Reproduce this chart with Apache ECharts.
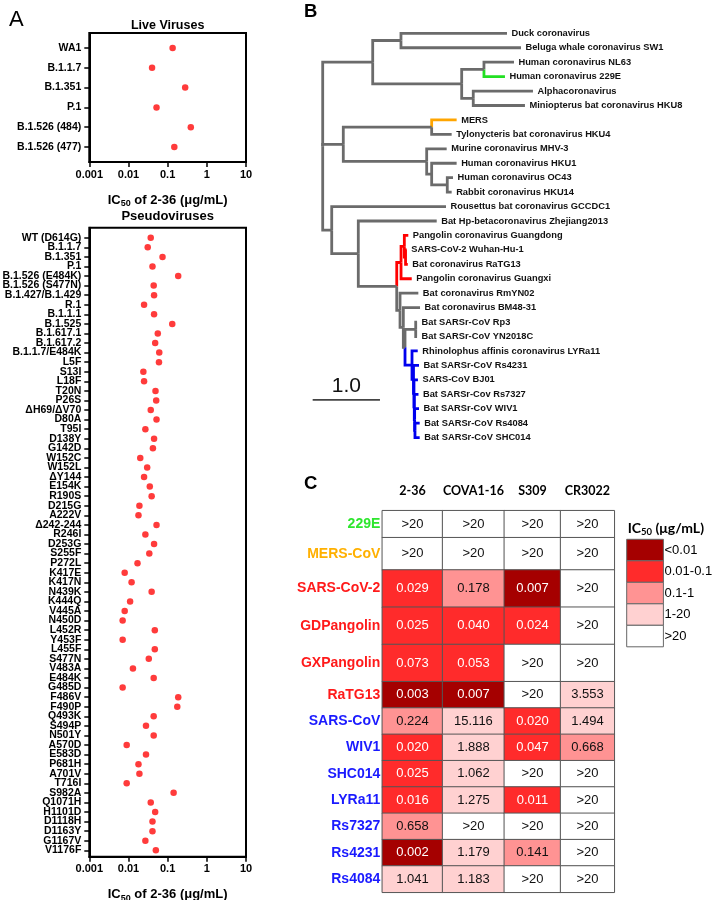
<!DOCTYPE html>
<html><head><meta charset="utf-8">
<script src="https://cdn.jsdelivr.net/npm/echarts@6/dist/echarts.min.js"></script>
<style>html,body{margin:0;padding:0;background:#fff}#c{width:715px;height:900px}</style>
</head><body><div id="c"></div>
<script>
// ================= DATA =================
// Panel A – live viruses
const liveNames = ['WA1','B.1.1.7','B.1.351','P.1','B.1.526 (484)','B.1.526 (477)'];
const liveIC50  = [0.134,0.040,0.28,0.052,0.39,0.148];
// Panel A – pseudoviruses
const pseudoNames = ['WT (D614G)','B.1.1.7','B.1.351','P.1','B.1.526 (E484K)','B.1.526 (S477N)','B.1.427/B.1.429','R.1','B.1.1.1','B.1.525',
  'B.1.617.1','B.1.617.2','B.1.1.7/E484K','L5F','S13I','L18F','T20N','P26S','ΔH69/ΔV70','D80A',
  'T95I','D138Y','G142D','W152C','W152L','ΔY144','E154K','R190S','D215G','A222V',
  'Δ242-244','R246I','D253G','S255F','P272L','K417E','K417N','N439K','K444Q','V445A',
  'N450D','L452R','Y453F','L455F','S477N','V483A','E484K','G485D','F486V','F490P',
  'Q493K','S494P','N501Y','A570D','E583D','P681H','A701V','T716I','S982A','Q1071H',
  'H1101D','D1118H','D1163Y','G1167V','V1176F'];
const pseudoIC50 = [0.037,0.031,0.074,0.041,0.186,0.044,0.045,0.025,0.045,0.131,
  0.056,0.048,0.061,0.060,0.024,0.025,0.049,0.051,0.037,0.052,
  0.027,0.045,0.042,0.020,0.030,0.025,0.035,0.039,0.019,0.018,
  0.052,0.027,0.045,0.034,0.017,0.008,0.012,0.039,0.011,0.008,
  0.0071,0.047,0.0071,0.047,0.033,0.013,0.044,0.0071,0.186,0.176,
  0.044,0.028,0.044,0.009,0.028,0.018,0.019,0.009,0.142,0.037,
  0.048,0.041,0.041,0.027,0.050];
const xTickLabels = ['0.001','0.01','0.1','1','10'];

// Panel B – phylogeny (leaf ids index treeLeaves; branch lengths, scale bar = 1.0)
const treeLeaves = ['Duck coronavirus','Beluga whale coronavirus SW1','Human coronavirus NL63','Human coronavirus 229E',
  'Alphacoronavirus','Miniopterus bat coronavirus HKU8','MERS','Tylonycteris bat coronavirus HKU4',
  'Murine coronavirus MHV-3','Human coronavirus HKU1','Human coronavirus OC43','Rabbit coronavirus HKU14',
  'Rousettus bat coronavirus GCCDC1','Bat Hp-betacoronavirus Zhejiang2013','Pangolin coronavirus Guangdong',
  'SARS-CoV-2 Wuhan-Hu-1','Bat coronavirus RaTG13','Pangolin coronavirus Guangxi','Bat coronavirus RmYN02',
  'Bat coronavirus BM48-31','Bat SARSr-CoV Rp3','Bat SARSr-CoV YN2018C','Rhinolophus affinis coronavirus LYRa11',
  'Bat SARSr-CoV Rs4231','SARS-CoV BJ01','Bat SARSr-Cov Rs7327','Bat SARSr-CoV WIV1','Bat SARSr-CoV Rs4084',
  'Bat SARSr-CoV SHC014'];
const treeNewick =
  '(((0:1.575,1:1.783):0.42,((2:0.446,3:0.312):0.331,(4:0.887,5:0.768):0.172):1.322):0.743,' +
  '((6:0.371,7:0.297):1.313,(8:0.297,(9:0.371,(10:0.085,11:0.065):0.232):0.074):1.239):0.306,' +
  '(12:1.698,(13:1.165,(((14:0.059,(15:0.018,16:0.033):0.018):0.049,17:0.159)r:0.064,' +
  '(18:0.272,(19:0.248,((20:0.02,21:0.02):0.159,' +
  '(22:0.085,(23:0.082,(24:0.059,(25:0.062,(26:0.065,(27:0.07,28:0.07):0.005):0.005):0.005):0.007):0.022)b:0.104' +
  '):0.025):0.049):0.049):0.571):0.395):0.134);';
const treeColors = {'3':'#22e022','6':'#ffa500','r':'#ff0000','b':'#0000ee'};
const scaleBarLength = 1.0;

// Panel C – IC50 (µg/mL)
const abNames = ['2-36','COVA1-16','S309','CR3022'];
const virusNames = ['229E','MERS-CoV','SARS-CoV-2','GDPangolin','GXPangolin','RaTG13','SARS-CoV','WIV1','SHC014','LYRa11','Rs7327','Rs4231','Rs4084'];
const virusColors = ['#2ee62e','#ffb000','#ff1a1a','#ff1a1a','#ff1a1a','#ff1a1a','#1a1aff','#1a1aff','#1a1aff','#1a1aff','#1a1aff','#1a1aff','#1a1aff'];
const ic_236    = ['>20','>20',0.029,0.025,0.073,0.003,0.224,0.020,0.025,0.016,0.658,0.002,1.041];
const ic_COVA   = ['>20','>20',0.178,0.040,0.053,0.007,15.116,1.888,1.062,1.275,'>20',1.179,1.183];
const ic_S309   = ['>20','>20',0.007,0.024,'>20','>20',0.020,0.047,'>20',0.011,'>20',0.141,'>20'];
const ic_CR3022 = ['>20','>20','>20','>20','>20',3.553,1.494,0.668,'>20','>20','>20','>20','>20'];
const binLabels = ['<0.01','0.01-0.1','0.1-1','1-20','>20'];
const binColors = ['#a50000','#ff2b2b','#ff9393','#ffd1d1','#ffffff'];

// ================= LAYOUT =================
const F = '"Liberation Sans", Arial, Helvetica, sans-serif';
const FL = 'Lato, "Liberation Sans", sans-serif';
const A_LEFT = 89.3, A_WIDTH = 156.7;
const tableLeft = 382.3, tableTop = 510.7;
const colWidths = [60.3, 61.7, 56.3, 53.7];
const rowGroups = [[0],[1],[2,3,4],[5,6,7,8,9,10,11,12]];
const rowGroupHeights = [27, 32.3, 111.7, 210.6];

// ================= BUILD =================
const grid = [], xAxis = [], yAxis = [], series = [], graphic = [];

const nameRich = {
  a:{fontSize:13, fontWeight:'bold', fontFamily:F, color:'#000'},
  s:{fontSize:9, fontWeight:'bold', fontFamily:F, color:'#000', padding:[7,0,0,0]}
};
function logX(gi){
  return {type:'log', logBase:10, gridIndex:gi, min:0.001, max:10,
    axisLine:{show:true, onZero:false, lineStyle:{color:'#000', width:2}},
    axisTick:{show:true, length:5, lineStyle:{color:'#000', width:1.5}},
    minorTick:{show:false}, splitLine:{show:false},
    axisLabel:{formatter:v=>xTickLabels[Math.round(Math.log10(v))+3], fontSize:11, fontWeight:'bold', color:'#000', fontFamily:F, margin:7},
    name:'{a|IC}{s|50}{a| of 2-36 (μg/mL)}', nameLocation:'middle', nameGap:30,
    nameTextStyle:{rich:nameRich}};
}
function idxY(gi, names, mn, mx){
  const idx = names.map((_, i) => i);
  return {type:'value', gridIndex:gi, inverse:true, min:mn, max:mx,
    axisLine:{show:true, onZero:false, lineStyle:{color:'#000', width:2}},
    axisTick:{show:true, length:5, customValues:idx, lineStyle:{color:'#000', width:1.5}},
    axisLabel:{show:false},
    splitLine:{show:false}};
}
// category labels placed at each index on the y scale, just left of the axis
function yLabelSeries(gi, names){
  return {type:'custom', xAxisIndex:gi, yAxisIndex:gi, silent:true, clip:false,
    data: names.map((n, i) => [0.001, i]),
    renderItem:(p, api)=>{
      const pt = api.coord([api.value(0), api.value(1)]);
      return {type:'text', x:pt[0]-8, y:pt[1], style:{text:names[p.dataIndex], align:'right', verticalAlign:'middle',
        fontSize:10.5, fontWeight:'bold', fontFamily:F, fill:'#000'}};
    }};
}
// Panel A grids
grid.push({left:A_LEFT, width:A_WIDTH, top:33, height:129, show:true, borderColor:'#000', borderWidth:2, outerBoundsMode:'none', containLabel:false});
grid.push({left:A_LEFT, width:A_WIDTH, top:227.7, height:629, show:true, borderColor:'#000', borderWidth:2, outerBoundsMode:'none', containLabel:false});
xAxis.push(logX(0), logX(1));
yAxis.push(idxY(0, liveNames, -0.76, 5.76), idxY(1, pseudoNames, -1.05, 64.67));
series.push({type:'scatter', xAxisIndex:0, yAxisIndex:0, symbolSize:6.5, itemStyle:{color:'#ff0a0a'},
  data: liveIC50.map((v,i)=>[v,i]), silent:true});
series.push({type:'scatter', xAxisIndex:1, yAxisIndex:1, symbolSize:6.5, itemStyle:{color:'#ff0a0a'},
  data: pseudoIC50.map((v,i)=>[v,i]), silent:true});
series.push(yLabelSeries(0, liveNames), yLabelSeries(1, pseudoNames));

// Panel B tree
function parseNewick(s){
  let i = 0;
  function node(){
    const n = {children:[], label:'', len:0};
    if (s[i] === '('){ i++; n.children.push(node()); while (s[i] === ','){ i++; n.children.push(node()); } i++; }
    while (i < s.length && !',():;'.includes(s[i])) n.label += s[i++];
    if (s[i] === ':'){ i++; let num=''; while (i < s.length && !',();'.includes(s[i])) num += s[i++]; n.len = parseFloat(num); }
    return n;
  }
  return node();
}
const treeRoot = parseNewick(treeNewick);
const segs = [], leaves = [];
let leafCount = 0;
function layout(n, px, color){
  n.x = px + n.len;
  n.color = treeColors[n.label] || color;
  if (!n.children.length){ n.y = leafCount++; leaves.push({name:treeLeaves[+n.label], x:n.x, y:n.y}); }
  else {
    n.children.forEach(c => layout(c, n.x, n.color));
    n.y = (n.children[0].y + n.children[n.children.length-1].y)/2;
    n.children.forEach(c => segs.push({v:[n.x, n.y, c.x, c.y], color:c.color}));
  }
}
layout(treeRoot, 0, '#6b6b6b');
grid.push({left:322.7, top:33.3, width:376.9, height:404.3, outerBoundsMode:'none'});
xAxis.push({type:'value', gridIndex:2, min:0, max:5.6, show:false});
yAxis.push({type:'value', gridIndex:2, min:0, max:28, inverse:true, show:false});
series.push({type:'custom', xAxisIndex:2, yAxisIndex:2, silent:true, clip:false,
  data: segs.map(s=>s.v),
  renderItem:(p, api)=>{
    const a = api.coord([api.value(0), api.value(1)]);
    const b = api.coord([api.value(0), api.value(3)]);
    const c = api.coord([api.value(2), api.value(3)]);
    return {type:'polyline', shape:{points:[a,b,c]}, style:{stroke:segs[p.dataIndex].color, lineWidth:2.8, fill:null, lineJoin:'miter', lineCap:'butt'}};
  }});
series.push({type:'custom', xAxisIndex:2, yAxisIndex:2, silent:true, clip:false,
  data: leaves.map(l=>[l.x, l.y]),
  renderItem:(p, api)=>{
    const pt = api.coord([api.value(0), api.value(1)]);
    return {type:'text', x:pt[0]+4.5, y:pt[1], style:{text:leaves[p.dataIndex].name, fill:'#111', fontSize:9.3, fontWeight:'bold', fontFamily:F, verticalAlign:'middle', align:'left'}};
  }});
// scale bar (anchored below the tree, length in tree units)
series.push({type:'custom', xAxisIndex:2, yAxisIndex:2, silent:true, clip:false,
  data:[[-0.149, 25.39, scaleBarLength]],
  renderItem:(p, api)=>{
    const a = api.coord([api.value(0), api.value(1)]);
    const b = api.coord([api.value(0)+api.value(2), api.value(1)]);
    return {type:'group', children:[
      {type:'line', shape:{x1:a[0], y1:a[1], x2:b[0], y2:b[1]}, style:{stroke:'#444', lineWidth:1.8}},
      {type:'text', x:(a[0]+b[0])/2, y:a[1]-3, style:{text:scaleBarLength.toFixed(1), fill:'#111', fontSize:21, fontFamily:F, align:'center', verticalAlign:'bottom'}}
    ]};
  }});

// Panel C heatmap
const abData = [ic_236, ic_COVA, ic_S309, ic_CR3022];
const numOf = v => (v === '>20' ? 1000 : v);
const txtOf = v => (v === '>20' ? '>20' : v.toFixed(3));
const heatIdx = [];
let topAcc = tableTop;
rowGroups.forEach((rows, g) => {
  let leftAcc = tableLeft;
  abNames.forEach((ab, c) => {
    const gi = grid.length;
    grid.push({left:leftAcc, top:topAcc, width:colWidths[c], height:rowGroupHeights[g], outerBoundsMode:'none'});
    xAxis.push({type:'category', gridIndex:gi, data:[ab], position:'top', show:g===0,
      axisLine:{show:false}, axisTick:{show:false}, splitLine:{show:false},
      axisLabel:{fontFamily:FL, fontWeight:'bold', fontSize:12.5, color:'#000', margin:13}});
    yAxis.push({type:'category', gridIndex:gi, data:rows.map(r=>virusNames[r]), inverse:true, show:c===0,
      axisLine:{show:false}, axisTick:{show:false}, splitLine:{show:false},
      axisLabel:{fontFamily:F, fontWeight:'bold', fontSize:14, margin:2,
        color:(val)=>virusColors[virusNames.indexOf(val)]}});
    heatIdx.push(series.length);
    series.push({type:'heatmap', xAxisIndex:gi, yAxisIndex:gi, silent:true,
      itemStyle:{borderColor:'#555', borderWidth:1},
      emphasis:{disabled:true},
      label:{show:true, fontFamily:F, fontSize:13, formatter:p=>p.data.t},
      data: rows.map((r, j) => {
        const v = numOf(abData[c][r]);
        return {value:[0, j, v], t:txtOf(abData[c][r]), label:{color: v < 0.1 ? '#fff' : '#111'}};
      })});
    leftAcc += colWidths[c];
  });
  topAcc += rowGroupHeights[g];
});

// legend for panel C (built from the bins)
graphic.push({type:'text', left:627.7, top:521, style:{text:'{a|IC}{s|50}{a| (μg/mL)}',
  rich:{a:{fontFamily:FL, fontWeight:'bold', fontSize:14, fill:'#000'}, s:{fontFamily:FL, fontWeight:'bold', fontSize:9.5, fill:'#000', padding:[7,0,0,0]}}}});
binLabels.forEach((b, i) => {
  graphic.push({type:'rect', shape:{x:626.7, y:539.3+i*21.5, width:36.7, height:21.5}, style:{fill:binColors[i], stroke:'#666', lineWidth:1}});
  graphic.push({type:'text', x:664.5, y:539.3+i*21.5+11, style:{text:b, fontFamily:F, fontSize:13, fill:'#000', verticalAlign:'middle', align:'left'}});
});
// panel letters and titles
graphic.push({type:'text', x:9, y:20, style:{text:'A', fontFamily:F, fontSize:22, fill:'#000', verticalAlign:'middle'}});
graphic.push({type:'text', x:304, y:12, style:{text:'B', fontFamily:F, fontSize:18.5, fontWeight:'bold', fill:'#000', verticalAlign:'middle'}});
graphic.push({type:'text', x:304, y:483.5, style:{text:'C', fontFamily:F, fontSize:18.5, fontWeight:'bold', fill:'#000', verticalAlign:'middle'}});
graphic.push({type:'text', x:A_LEFT+A_WIDTH/2, y:26, style:{text:'Live Viruses', fontFamily:F, fontSize:12.5, fontWeight:'bold', fill:'#000', align:'center', verticalAlign:'middle'}});
graphic.push({type:'text', x:A_LEFT+A_WIDTH/2, y:216.7, style:{text:'Pseudoviruses', fontFamily:F, fontSize:13, fontWeight:'bold', fill:'#000', align:'center', verticalAlign:'middle'}});

const option = {
  animation:false, backgroundColor:'#fff',
  grid, xAxis, yAxis, series, graphic,
  visualMap:{type:'piecewise', show:false, dimension:2, seriesIndex:heatIdx,
    pieces:[{lt:0.01, color:binColors[0]},{gte:0.01, lt:0.1, color:binColors[1]},{gte:0.1, lt:1, color:binColors[2]},
            {gte:1, lte:20, color:binColors[3]},{gt:20, color:binColors[4]}]}
};
const chart = echarts.init(document.getElementById('c'));
chart.setOption(option);
</script></body></html>
